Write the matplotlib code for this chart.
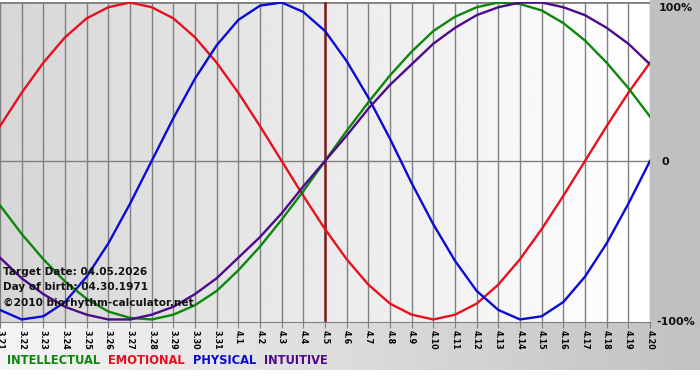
import numpy as np
import matplotlib
matplotlib.use("Agg")
import matplotlib.pyplot as plt
from matplotlib.patches import Rectangle

# ---------------------------------------------------------------- data
DAYS = ["3.21", "3.22", "3.23", "3.24", "3.25", "3.26", "3.27", "3.28", "3.29",
        "3.30", "3.31", "4.1", "4.2", "4.3", "4.4", "4.5", "4.6", "4.7", "4.8",
        "4.9", "4.10", "4.11", "4.12", "4.13", "4.14", "4.15", "4.16", "4.17",
        "4.18", "4.19", "4.20"]
TARGET = "4.5"

INTELLECTUAL = [-0.28, -0.46, -0.62, -0.76, -0.87, -0.95, -0.99, -1.00, -0.97,
                -0.91, -0.82, -0.69, -0.54, -0.37, -0.19, 0.00, 0.19, 0.37,
                0.54, 0.69, 0.82, 0.91, 0.97, 1.00, 0.99, 0.95, 0.87, 0.76,
                0.62, 0.46, 0.28]
EMOTIONAL = [0.22, 0.43, 0.62, 0.78, 0.90, 0.97, 1.00, 0.97, 0.90, 0.78, 0.62,
             0.43, 0.22, 0.00, -0.22, -0.43, -0.62, -0.78, -0.90, -0.97, -1.00,
             -0.97, -0.90, -0.78, -0.62, -0.43, -0.22, 0.00, 0.22, 0.43, 0.62]
PHYSICAL = [-0.94, -1.00, -0.98, -0.89, -0.73, -0.52, -0.27, 0.00, 0.27, 0.52,
            0.73, 0.89, 0.98, 1.00, 0.94, 0.82, 0.63, 0.40, 0.14, -0.14, -0.40,
            -0.63, -0.82, -0.94, -1.00, -0.98, -0.89, -0.73, -0.52, -0.27, 0.00]
INTUITIVE = [-0.61, -0.74, -0.84, -0.92, -0.97, -1.00, -1.00, -0.97, -0.92,
             -0.84, -0.74, -0.61, -0.48, -0.33, -0.16, 0.00, 0.16, 0.33, 0.48,
             0.61, 0.74, 0.84, 0.92, 0.97, 1.00, 1.00, 0.97, 0.92, 0.84, 0.74,
             0.61]

SERIES = [("INTELLECTUAL", INTELLECTUAL, "#0b870b"),
          ("EMOTIONAL", EMOTIONAL, "#e8101e"),
          ("PHYSICAL", PHYSICAL, "#0a0ad6"),
          ("INTUITIVE", INTUITIVE, "#4e0a8c")]
DRAW_ORDER = ["EMOTIONAL", "PHYSICAL", "INTELLECTUAL", "INTUITIVE"]

INFO = ["Target Date: 04.05.2026", "Day of birth: 04.30.1971",
        "\u00a92010 biorhythm-calculator.net"]

# ---------------------------------------------------------------- figure
W, H = 700, 380
fig = plt.figure(figsize=(W / 100, H / 100), dpi=100, facecolor="white")

# bottom band behind the date labels and legend: light left -> grey right
band = fig.add_axes([0, 10 / H, 1, 48 / H], zorder=0)
band.imshow(np.linspace(0.96, 0.76, 256)[None, :], cmap="gray", vmin=0, vmax=1,
            aspect="auto", extent=[0, 1, 0, 1])
band.set_axis_off()
# grey right margin
fig.patches.append(Rectangle((650 / W, 58 / H), 50 / W, 1 - 58 / H,
                             transform=fig.transFigure, color="#c0c0c0",
                             zorder=0))

ax = fig.add_axes([0, 58 / H, 650 / W, 320 / H], zorder=2)
x = np.arange(len(DAYS))
ax.set_xlim(0, len(DAYS) - 1)
ax.set_ylim(-1.016, 1.003)

# plot area gradient: grey left -> white right
ax.imshow(np.linspace(0.84, 1.0, 256)[None, :], cmap="gray", vmin=0, vmax=1,
          aspect="auto", extent=[0, len(DAYS) - 1, -1.016, 1.003], zorder=0)

for xi in x:
    ax.axvline(xi, color="#808080", lw=1.0, zorder=1)
ax.axhline(0, color="#808080", lw=1.0, zorder=1)
ax.axhline(1.003, color="#808080", lw=2.0, zorder=1)

ax.axvline(DAYS.index(TARGET), color="#801c1c", lw=1.8, zorder=2)

lookup = {name: (vals, col) for name, vals, col in SERIES}
for name in DRAW_ORDER:
    vals, col = lookup[name]
    ax.plot(x, vals, color=col, lw=1.7, zorder=3)

for i, line in enumerate(INFO):
    ax.text(3 / 650, (380 - 272 - 58 - i * 15.5) / 320, line,
            transform=ax.transAxes, ha="left", va="center", fontsize=7.6,
            fontweight="bold", color="#111111", zorder=5)

for s in ("top", "right", "left"):
    ax.spines[s].set_visible(False)
ax.spines["bottom"].set_color("#808080")
ax.set_yticks([])
ax.set_xticks(x)
ax.set_xticklabels(DAYS, rotation=270, fontsize=5.8, fontweight="bold")
ax.tick_params(axis="x", length=4, color="#808080", pad=1.5)

# right-hand percentage labels
for val, lab, dx, dy in ((1.0, "100%", 6.5, -4), (0.0, "0", 8, -1),
                         (-1.0, "-100%", 4.5, -1.5)):
    ax.annotate(lab, xy=(1, val), xycoords=("axes fraction", "data"),
                xytext=(dx, dy), textcoords="offset points", ha="left",
                va="center", fontsize=8, fontweight="bold", color="#111111",
                annotation_clip=False)

# coloured legend words along the bottom
xpos = 7
for name, vals, col in SERIES:
    t = fig.text(xpos / W, 1 - 361 / H, name, color=col, fontsize=8.3,
                 fontweight="bold", ha="left", va="center")
    fig.canvas.draw()
    bb = t.get_window_extent()
    xpos += bb.width + 8

fig.savefig("out.png", dpi=100)
